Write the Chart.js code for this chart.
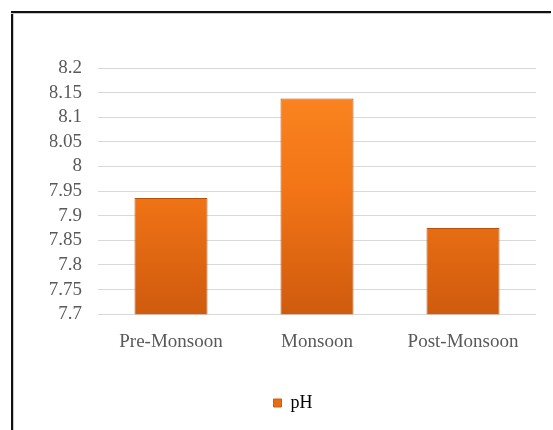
<!DOCTYPE html>
<html lang="en">
<head>
  <meta charset="UTF-8">
  <title>pH by season</title>
  <script src="https://cdn.jsdelivr.net/npm/chart.js"></script>
  <style>
    html, body {
      margin: 0;
      padding: 0;
      background: #fff;
      overflow: hidden;
    }
    .edge-v {
      position: absolute;
      left: 11px;
      top: 11px;
      width: 2px;
      height: 419px;
      background: #111;
      border-right: 1px solid #c8c8c8;
    }
    .edge-h {
      position: absolute;
      left: 11px;
      top: 11px;
      width: 540px;
      height: 2px;
      background: #111;
      border-bottom: 1px solid #c8c8c8;
    }
    .chart-box {
      position: absolute;
      left: 0;
      top: 0;
      width: 553px;
      height: 430px;
    }
  </style>
</head>
<body>

<div class="edge-v"></div>
<div class="edge-h"></div>
<div class="chart-box">
  <canvas id="phChart" width="553" height="430"></canvas>
</div>

<script>
const seasons = ['Pre-Monsoon', 'Monsoon', 'Post-Monsoon'];
const phValues = [7.936, 8.138, 7.875];
const yMin = 7.7, yMax = 8.2, yStep = 0.05;

const textColor = '#595959';
const serif = "'Liberation Serif', 'Times New Roman', serif";

// vertical orange gradient, roughly like the bevelled Excel bars
function barFill(context) {
  const area = context.chart.chartArea;
  if (!area) return '#f07a1c';
  const g = context.chart.ctx.createLinearGradient(0, area.top, 0, area.bottom);
  g.addColorStop(0, '#fc8822');
  g.addColorStop(0.5, '#f27416');
  g.addColorStop(1, '#cf5b0e');
  return g;
}

const ctx = document.getElementById('phChart').getContext('2d');
const chart = new Chart(ctx, {
  type: 'bar',
  data: {
    labels: seasons,
    datasets: [{
      label: 'pH',
      data: phValues,
      backgroundColor: barFill,
      borderColor: '#b4520e',
      borderWidth: 1,
      barPercentage: 0.5,
      categoryPercentage: 1
    }]
  },
  options: {
    responsive: false,
    animation: false,
    layout: {
      padding: { top: 68, right: 17, bottom: 8, left: 50 }
    },
    scales: {
      x: {
        afterFit: scale => { scale.height += 13; },
        grid: { display: false },
        border: { display: false },
        ticks: {
          color: textColor,
          font: { family: serif, size: 19 },
          padding: 8,
          maxRotation: 0
        }
      },
      y: {
        min: yMin,
        max: yMax,
        afterFit: scale => { scale.width = 48; },
        grid: { color: '#d9d9d9', lineWidth: 1, drawTicks: false },
        border: { display: false },
        ticks: {
          stepSize: yStep,
          autoSkip: false,
          color: textColor,
          font: { family: serif, size: 19, lineHeight: 1 },
          padding: 16,
          callback: v => Number(v.toFixed(2)).toString()
        }
      }
    },
    plugins: {
      legend: {
        position: 'bottom',
        labels: {
          color: textColor,
          font: { family: serif, size: 18 },
          boxWidth: 8,
          boxHeight: 8,
          padding: 20,
          generateLabels: c => [{
            text: 'pH',
            fillStyle: '#e66d14',
            strokeStyle: '#c55f14',
            lineWidth: 1,
            datasetIndex: 0
          }]
        }
      },
      tooltip: { enabled: false }
    }
  }
});
</script>
</body>
</html>
